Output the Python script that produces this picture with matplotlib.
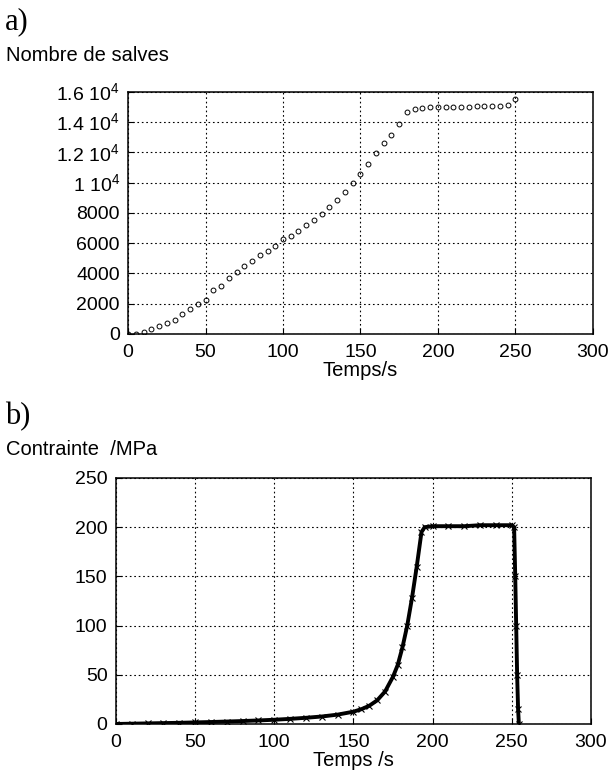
import matplotlib
matplotlib.use('Agg')
import matplotlib.pyplot as plt

plt.rcParams['font.family'] = ['Liberation Sans', 'DejaVu Sans']
plt.rcParams['mathtext.fontset'] = 'custom'
plt.rcParams['mathtext.rm'] = 'Liberation Sans'

# a) cumulative number of bursts vs time
salves_t = [0, 5, 10, 15, 20, 25, 30, 35, 40, 45, 50, 55, 60, 65, 70, 75, 80, 85, 90, 95,
            100, 105, 110, 115, 120, 125, 130, 135, 140, 145, 150, 155, 160, 165, 170, 175,
            180, 185, 190, 195, 200, 205, 210, 215, 220, 225, 230, 235, 240, 245, 250]
salves_n = [0, 20, 150, 330, 520, 700, 950, 1300, 1650, 1950, 2250, 2900, 3150, 3700, 4100,
            4500, 4800, 5200, 5500, 5800, 6250, 6500, 6800, 7200, 7550, 7950, 8400, 8850,
            9400, 10000, 10600, 11250, 11950, 12600, 13150, 13850, 14650, 14900, 14950,
            14980, 15000, 15010, 15020, 15020, 15030, 15040, 15050, 15070, 15100, 15150, 15550]
salves_yticks = [0, 2000, 4000, 6000, 8000, 10000, 12000, 14000, 16000]
salves_ylabels = ['0', '2000', '4000', '6000', '8000', '1 10$^4$', '1.2 10$^4$',
                  '1.4 10$^4$', '1.6 10$^4$']

# b) stress vs time
stress_t = [0, 10, 20, 30, 40, 50, 60, 70, 80, 90, 100, 110, 120, 130, 140, 150, 155, 160,
            165, 170, 175, 178, 181, 184, 187, 190, 193, 195, 200, 210, 220, 230, 240, 250,
            251.5, 252.2, 252.8, 253.4, 254.0, 254.5]
stress_v = [0, 0.3, 0.6, 0.9, 1.2, 1.6, 2.0, 2.5, 3.0, 3.6, 4.3, 5.2, 6.3, 7.6, 9.5, 12.5,
            15, 18.5, 24, 33, 48, 60, 78, 100, 128, 160, 195, 200, 201, 201, 201, 202, 202,
            202, 200, 150, 100, 50, 15, 0]
stress_yticks = [0, 50, 100, 150, 200, 250]
xticks = [0, 50, 100, 150, 200, 250, 300]

fig = plt.figure(figsize=(6.13, 7.81), dpi=100)


def style_axes(ax):
    ax.set_xlim(0, 300)
    ax.set_xticks(xticks)
    ax.grid(True, color='black', linestyle=(0, (1.5, 2.5)), linewidth=0.8)
    ax.tick_params(direction='in', length=4, labelsize=14)
    ax.tick_params(axis='x', pad=7)
    ax.tick_params(axis='y', pad=6)
    for sp in ax.spines.values():
        sp.set_linewidth(1.1)


ax1 = fig.add_axes([0.209, 0.5725, 0.758, 0.3098])
ax1.plot(salves_t, salves_n, 'o', mfc='none', mec='black', ms=3.5, mew=0.7)
ax1.set_ylim(0, 16000)
ax1.set_yticks(salves_yticks)
ax1.set_yticklabels(salves_ylabels)
style_axes(ax1)
ax1.set_xlabel('Temps/s', fontsize=14.5, labelpad=0)

ax2 = fig.add_axes([0.189, 0.073, 0.775, 0.315])
ax2.plot(stress_t, stress_v, '-', color='black', lw=2.8)
ax2.plot(stress_t, stress_v, 'x', color='black', ms=4, mew=0.8)
ax2.set_ylim(0, 250)
ax2.set_yticks(stress_yticks)
style_axes(ax2)
ax2.set_xlabel('Temps /s', fontsize=14.5, labelpad=0)

fig.text(0.008, 0.972, 'a)', fontsize=22, family='Liberation Serif', va='center')
fig.text(0.010, 0.929, 'Nombre de salves', fontsize=14.5, va='center')
fig.text(0.008, 0.466, 'b)', fontsize=22, family='Liberation Serif', va='center')
fig.text(0.010, 0.424, 'Contrainte  /MPa', fontsize=14.5, va='center')

fig.savefig('out.png', dpi=100)
